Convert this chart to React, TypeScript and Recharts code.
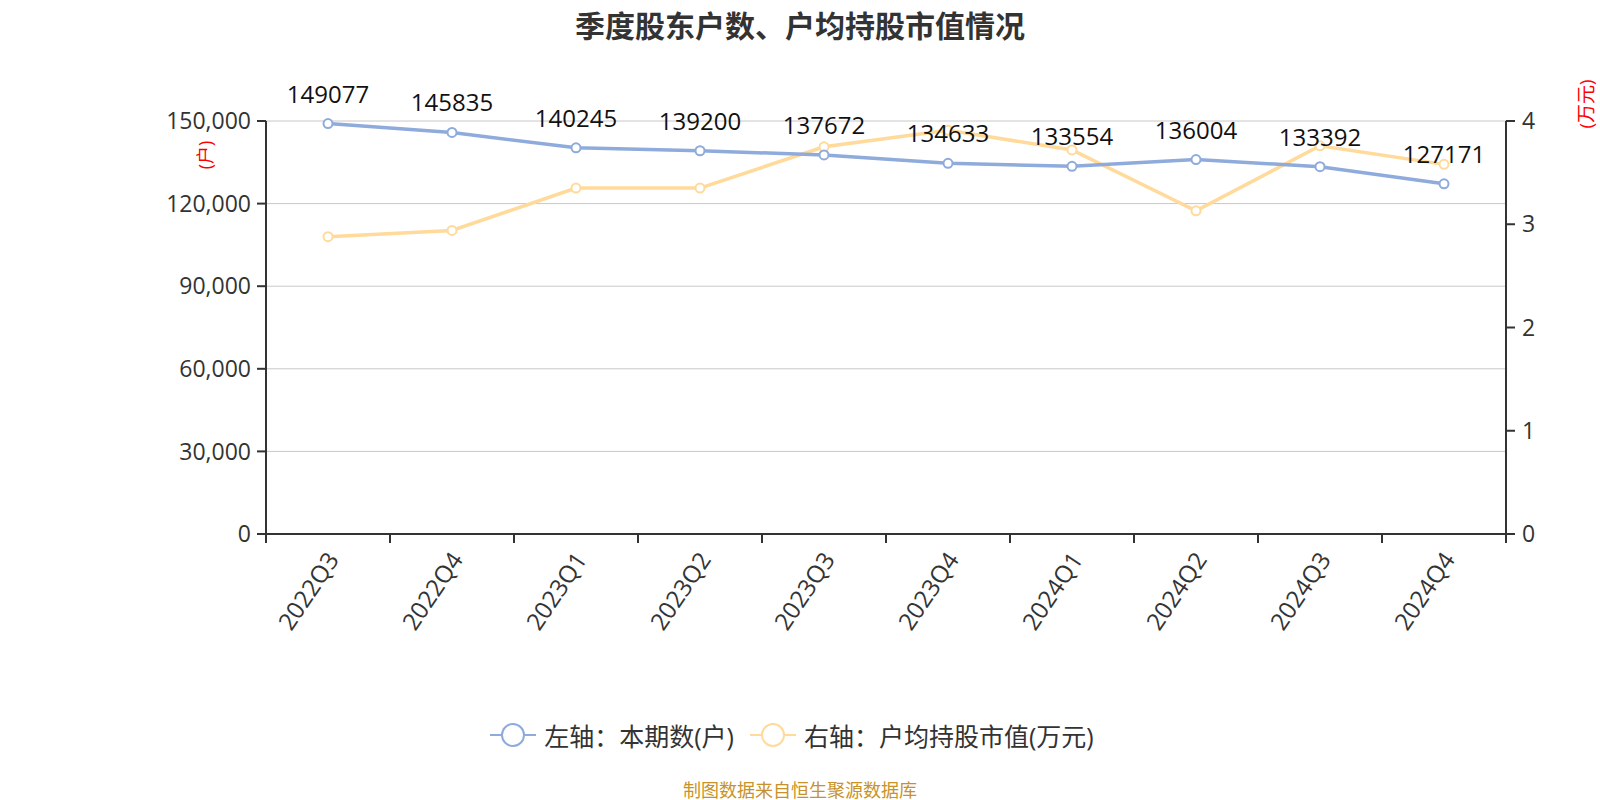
import { LineChart, Line, XAxis, YAxis, CartesianGrid, LabelList } from "recharts";

const quarters = ["2022Q3", "2022Q4", "2023Q1", "2023Q2", "2023Q3", "2023Q4", "2024Q1", "2024Q2", "2024Q3", "2024Q4"];
const holders = [149077, 145835, 140245, 139200, 137672, 134633, 133554, 136004, 133392, 127171];
const avgValue = [2.88, 2.94, 3.35, 3.35, 3.75, 3.91, 3.72, 3.13, 3.76, 3.58];
const leftTicks = [0, 30000, 60000, 90000, 120000, 150000];
const rightTicks = [0, 1, 2, 3, 4];
const bandEdges = quarters.map((_, i) => i).concat(quarters.length);

// points sit in the middle of each category band
const data = quarters.map((q, i) => ({ x: i + 0.5, q, holders: holders[i], avg: avgValue[i] }));

const FONT = "'Open Sans', 'Noto Sans CJK SC', sans-serif";
const BLUE = "#8eabdc";
const ORANGE = "#ffda9a";
const AXIS = "#333";

const PLOT_LEFT = 266;
const PLOT_RIGHT = 1506;
const HALF_BAND = (PLOT_RIGHT - PLOT_LEFT) / quarters.length / 2;

function XTick({ x, y, payload }: any) {
  const label = quarters[payload.value];
  if (!label) return null;
  return (
    <g transform={`translate(${x + HALF_BAND + 5},${y + 12}) rotate(-56)`}>
      <text x={0} y={0} dy="0.35em" textAnchor="end" fill="#333" fontSize={24} fontFamily={FONT}>
        {label}
      </text>
    </g>
  );
}

function TopLabel({ x, y, value }: any) {
  return (
    <text x={x} y={y - 21} textAnchor="middle" fill="#111" fontSize={24} fontFamily={FONT}>
      {value}
    </text>
  );
}

function LegendItem({ color, text }: { color: string; text: string }) {
  return (
    <div style={{ display: "flex", alignItems: "center", marginRight: 16 }}>
      <svg width={46} height={28} style={{ marginRight: 8 }}>
        <line x1={0} y1={14} x2={46} y2={14} stroke={color} strokeWidth={2} />
        <circle cx={23} cy={14} r={11} fill="#fff" stroke={color} strokeWidth={2} />
      </svg>
      <span>{text}</span>
    </div>
  );
}

export default function App() {
  return (
    <div style={{ position: "absolute", left: 0, top: 0, width: 1600, height: 800, background: "#fff", fontFamily: FONT }}>
      <div style={{ position: "absolute", top: 2, left: 0, width: 1600, textAlign: "center", fontSize: 30, fontWeight: 700, color: "#333" }}>
        季度股东户数、户均持股市值情况
      </div>
      <div style={{ position: "absolute", left: 190, top: 142, fontSize: 18, color: "red", transform: "rotate(-90deg)", transformOrigin: "center", whiteSpace: "nowrap" }}>
        (户)
      </div>
      <div style={{ position: "absolute", left: 1560, top: 90, fontSize: 19, color: "red", transform: "rotate(-90deg)", transformOrigin: "center", whiteSpace: "nowrap" }}>
        (万元)
      </div>
      <LineChart width={1600} height={800} data={data} margin={{ top: 121, right: 34, left: 166, bottom: 166 }}>
        <CartesianGrid horizontal vertical={false} stroke="#c8c8c8" yAxisId="left" />
        <XAxis
          dataKey="x"
          type="number"
          domain={[0, quarters.length]}
          ticks={bandEdges}
          height={100}
          tick={<XTick />}
          tickSize={9}
          tickMargin={0}
          interval={0}
          axisLine={{ stroke: AXIS, strokeWidth: 2 }}
          tickLine={{ stroke: AXIS, strokeWidth: 2 }}
        />
        <YAxis
          yAxisId="left"
          width={100}
          domain={[0, 150000]}
          ticks={leftTicks}
          tickFormatter={(v: number) => v.toLocaleString("en-US")}
          tick={{ fill: "#333", fontSize: 23, fontFamily: FONT }}
          tickSize={9}
          tickMargin={6}
          axisLine={{ stroke: AXIS, strokeWidth: 2 }}
          tickLine={{ stroke: AXIS, strokeWidth: 2 }}
        />
        <YAxis
          yAxisId="right"
          orientation="right"
          width={60}
          domain={[0, 4]}
          ticks={rightTicks}
          tick={{ fill: "#333", fontSize: 23, fontFamily: FONT }}
          tickSize={9}
          tickMargin={7}
          axisLine={{ stroke: AXIS, strokeWidth: 2 }}
          tickLine={{ stroke: AXIS, strokeWidth: 2 }}
        />
        <Line
          yAxisId="right"
          dataKey="avg"
          stroke={ORANGE}
          strokeWidth={3.5}
          dot={{ r: 4.5, fill: "#fff", stroke: ORANGE, strokeWidth: 2 }}
          isAnimationActive={false}
        />
        <Line
          yAxisId="left"
          dataKey="holders"
          stroke={BLUE}
          strokeWidth={3.5}
          dot={{ r: 4.5, fill: "#fff", stroke: BLUE, strokeWidth: 2 }}
          isAnimationActive={false}
        >
          <LabelList dataKey="holders" content={<TopLabel />} />
        </Line>
      </LineChart>
      <div style={{ position: "absolute", top: 717, left: 0, width: 1600, display: "flex", justifyContent: "center", fontSize: 25, color: "#333" }}>
        <LegendItem color={BLUE} text="左轴：本期数(户)" />
        <LegendItem color={ORANGE} text="右轴：户均持股市值(万元)" />
      </div>
      <div style={{ position: "absolute", top: 776, left: 0, width: 1600, textAlign: "center", fontSize: 18, color: "#c8922a" }}>
        制图数据来自恒生聚源数据库
      </div>
    </div>
  );
}
